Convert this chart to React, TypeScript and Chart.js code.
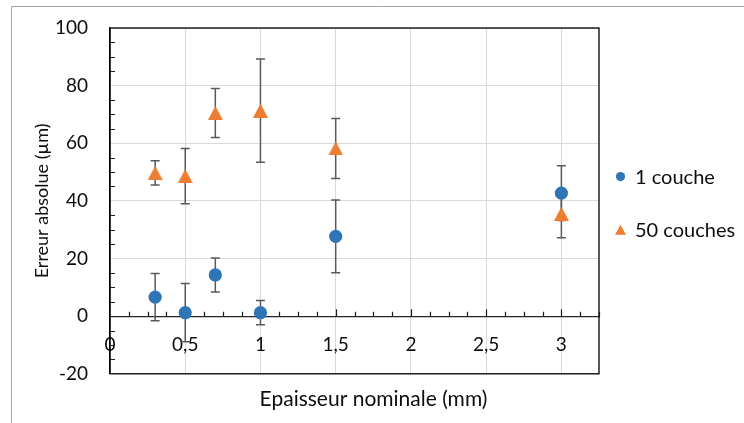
import React, { useEffect, useRef } from 'react';
import { Chart, registerables } from 'chart.js';

Chart.register(...registerables);

// ---- data ----
const thicknessMm = [0.3, 0.5, 0.7, 1, 1.5, 3];
const oneLayerError = [6.6, 1.2, 14.3, 1.2, 27.7, 42.7];
const oneLayerSd = [8.2, 10.1, 5.9, 4.2, 12.6, 9.5];
const fiftyLayersError = [49.7, 48.6, 70.5, 71.3, 58.2, 35.5];
const fiftyLayersSd = [4.2, 9.6, 8.5, 17.9, 10.4, 8.3];
const seriesLabels = ['1 couche', '50 couches'];
const xTickValues = [0, 0.5, 1, 1.5, 2, 2.5, 3];
const xTickLabels = ['0', '0,5', '1', '1,5', '2', '2,5', '3'];
const yTickValues = [-20, 0, 20, 40, 60, 80, 100];
const yTickLabels = ['-20', '0', '20', '40', '60', '80', '100'];
const xTitle = 'Epaisseur nominale (mm)';
const yTitle = 'Erreur absolue (µm)';

const BLUE = '#2E75B6';
const ORANGE = '#ED7D31';
const TEXT = '#0d0d0d';
const FONT = 'Lato';

function makeTriangle(w: number, h: number, color: string) {
  const c = document.createElement('canvas');
  c.width = w;
  c.height = h;
  const ctx = c.getContext('2d')!;
  ctx.fillStyle = color;
  ctx.beginPath();
  ctx.moveTo(0, h);
  ctx.lineTo(w, h);
  ctx.lineTo(w / 2, 0);
  ctx.closePath();
  ctx.fill();
  return c;
}

export default function App() {
  const ref = useRef<HTMLCanvasElement>(null);

  useEffect(() => {
    const canvas = ref.current!;
    const triangle = makeTriangle(15, 14, ORANGE);

    const frame = {
      id: 'frame',
      beforeDraw(chart: any) {
        const ctx = chart.ctx;
        ctx.save();
        ctx.strokeStyle = '#a6a6a6';
        ctx.lineWidth = 1;
        ctx.beginPath();
        ctx.moveTo(11.5, 423);
        ctx.lineTo(11.5, 6.5);
        ctx.lineTo(744, 6.5);
        ctx.stroke();
        ctx.restore();
      },
      beforeDatasetsDraw(chart: any) {
        const ctx = chart.ctx;
        const { left, right, top, bottom } = chart.chartArea;
        const xs = chart.scales.x;
        const ys = chart.scales.y;
        ctx.save();
        // plot border
        ctx.strokeStyle = '#000';
        ctx.lineWidth = 1.3;
        ctx.strokeRect(left, top, right - left, bottom - top);
        // minor ticks
        ctx.lineWidth = 1.2;
        ctx.strokeStyle = '#1a1a1a';
        const y0 = ys.getPixelForValue(0);
        ctx.beginPath();
        for (let i = 1; i <= 26; i++) {
          const px = Math.round(xs.getPixelForValue(i * 0.125)) + 0.5;
          const len = i % 4 === 0 ? 7 : 4.5;
          ctx.moveTo(px, y0);
          ctx.lineTo(px, y0 - len);
        }
        for (let v = -20; v <= 100; v += 5) {
          if (v % 20 === 0) continue;
          const py = Math.round(ys.getPixelForValue(v)) + 0.5;
          ctx.moveTo(left, py);
          ctx.lineTo(left + 5, py);
        }
        ctx.stroke();
        // error bars
        ctx.strokeStyle = '#595959';
        ctx.lineWidth = 1.5;
        chart.data.datasets.forEach((ds: any) => {
          const errs: number[] = ds.errorBars || [];
          ds.data.forEach((pt: any, i: number) => {
            const e = errs[i];
            if (e == null) return;
            const px = xs.getPixelForValue(pt.x);
            const pTop = ys.getPixelForValue(pt.y + e);
            const pBot = ys.getPixelForValue(pt.y - e);
            ctx.beginPath();
            ctx.moveTo(px, pTop);
            ctx.lineTo(px, pBot);
            ctx.moveTo(px - 4.5, pTop);
            ctx.lineTo(px + 4.5, pTop);
            ctx.moveTo(px - 4.5, pBot);
            ctx.lineTo(px + 4.5, pBot);
            ctx.stroke();
          });
        });
        ctx.restore();
      },
      afterDraw(chart: any) {
        const ctx = chart.ctx;
        const { right, top, bottom } = chart.chartArea;
        const mid = (top + bottom) / 2 + 2.3;
        const gap = 53.3;
        ctx.save();
        ctx.font = `20px ${FONT}`;
        ctx.textBaseline = 'middle';
        ctx.fillStyle = TEXT;
        chart.data.datasets.forEach((ds: any, i: number) => {
          const cy = mid + (i - 0.5) * gap;
          const cx = right + 21.5;
          ctx.fillStyle = ds.backgroundColor;
          if (ds.legendShape === 'triangle') {
            ctx.beginPath();
            ctx.moveTo(cx - 5.5, cy + 5);
            ctx.lineTo(cx + 5.5, cy + 5);
            ctx.lineTo(cx, cy - 5);
            ctx.closePath();
            ctx.fill();
          } else {
            ctx.beginPath();
            ctx.arc(cx, cy, 4.6, 0, Math.PI * 2);
            ctx.fill();
          }
          ctx.fillStyle = TEXT;
          ctx.fillText(ds.label, right + 36, cy + 1);
        });
        ctx.restore();
      },
    };

    const chart = new Chart(canvas, {
      type: 'scatter',
      data: {
        datasets: [
          {
            label: seriesLabels[0],
            data: thicknessMm.map((x, i) => ({ x, y: oneLayerError[i] })),
            errorBars: oneLayerSd,
            legendShape: 'circle',
            backgroundColor: BLUE,
            borderColor: BLUE,
            pointStyle: 'circle',
            pointRadius: 6.6,
            pointBorderWidth: 0,
            pointHoverRadius: 6.6,
          } as any,
          {
            label: seriesLabels[1],
            data: thicknessMm.map((x, i) => ({ x, y: fiftyLayersError[i] })),
            errorBars: fiftyLayersSd,
            legendShape: 'triangle',
            backgroundColor: ORANGE,
            borderColor: ORANGE,
            pointStyle: triangle,
            pointRadius: 7.5,
            pointBorderWidth: 0,
          } as any,
        ],
      },
      options: {
        responsive: false,
        animation: false,
        events: [],
        layout: { padding: { top: 28, left: 3, right: 0, bottom: 0 } },
        plugins: {
          legend: { display: false },
          tooltip: { enabled: false },
          title: {
            display: true,
            position: 'bottom',
            text: xTitle,
            color: TEXT,
            font: { family: FONT, size: 21, weight: 'normal' },
            padding: { top: 13, bottom: 11 },
          },
        },
        scales: {
          x: {
            type: 'linear',
            position: { y: 0 } as any,
            min: 0,
            max: 3.25,
            afterBuildTicks: (s: any) => {
              s.ticks = xTickValues.map((v) => ({ value: v }));
            },
            ticks: {
              color: TEXT,
              font: { family: FONT, size: 19 },
              padding: 17,
              maxRotation: 0,
              autoSkip: false,
              callback: (_v: any, i: number) => xTickLabels[i],
            },
            grid: { color: '#d9d9d9', lineWidth: 1, drawTicks: false },
            border: { display: true, color: '#262626', width: 1.3 },
          },
          y: {
            type: 'linear',
            position: 'left',
            min: -20,
            max: 100,
            afterBuildTicks: (s: any) => {
              s.ticks = yTickValues.map((v) => ({ value: v }));
            },
            afterFit: (s: any) => {
              s.width = 107;
              s.paddingTop = 0;
              s.paddingBottom = 0;
            },
            ticks: {
              color: TEXT,
              font: { family: FONT, size: 19 },
              padding: 22,
              autoSkip: false,
              callback: (_v: any, i: number) => yTickLabels[i],
            },
            grid: { color: '#d9d9d9', lineWidth: 1, drawTicks: false },
            border: { display: true, color: '#000', width: 1.3 },
            title: {
              display: true,
              text: yTitle,
              color: TEXT,
              font: { family: FONT, size: 18 },
              padding: { top: 28, bottom: 0 },
            },
          },
          y2: {
            type: 'linear',
            position: 'right',
            display: true,
            afterFit: (s: any) => {
              s.width = 145;
              s.paddingTop = 0;
              s.paddingBottom = 0;
            },
            ticks: { display: false },
            grid: { display: false, drawTicks: false },
            border: { display: false },
          },
        },
      },
      plugins: [frame],
    } as any);

    return () => chart.destroy();
  }, []);

  return (
    <div style={{ position: 'fixed', left: 0, top: 0, width: 744, height: 423, background: '#fff' }}>
      <canvas ref={ref} width={744} height={423} style={{ display: 'block', width: 744, height: 423 }} />
    </div>
  );
}
